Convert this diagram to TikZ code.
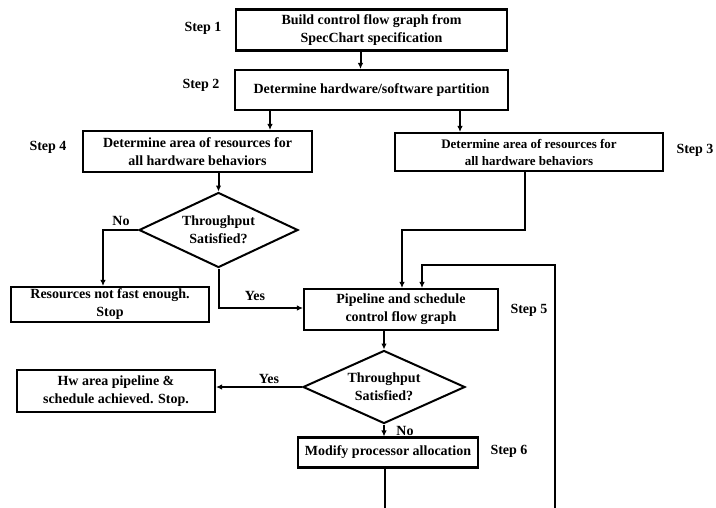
\documentclass[tikz,border=0pt]{standalone}
\usepackage{fontspec}
\setmainfont{Liberation Serif}
\usetikzlibrary{shapes.geometric,arrows.meta}
\begin{document}
\begin{tikzpicture}[x=1pt,y=-1pt,
  every node/.style={font=\fontsize{14}{18}\selectfont\bfseries},
  box/.style={draw,line width=2.1pt,align=center,inner sep=0pt},
  dia/.style={draw,diamond,shape aspect=2.1,line width=2pt,align=center,inner sep=0pt},
  lbl/.style={inner sep=0pt},
  conn/.style={line width=2pt,-{Latex[length=6pt,width=5.5pt]}},
  plain/.style={line width=2pt}]
\clip (0,0) rectangle (716,507);
\fill[white] (0,0) rectangle (716,507);

\node[box,minimum width=271,minimum height=41] (b1) at (371.5,30) {Build control flow graph from\\SpecChart specification};
\node[box,minimum width=273,minimum height=40] (b2) at (371.5,90) {Determine hardware/software partition};
\node[box,minimum width=229,minimum height=41] (b4) at (197.5,151.5) {Determine area of resources for\\all hardware behaviors};
\node[box,minimum width=268,minimum height=38,font=\fontsize{13}{17}\selectfont\bfseries] (b3) at (529,152) {Determine area of resources for\\all hardware behaviors};
\node[dia,minimum width=159,minimum height=75] (d1) at (218.5,230) {Throughput\\Satisfied?};
\node[box,minimum width=198,minimum height=35] (r) at (110,304.5) {Resources not fast enough.\\Stop};
\node[box,minimum width=194,minimum height=41] (p) at (401,309.5) {Pipeline and schedule\\control flow graph};
\node[dia,minimum width=162,minimum height=73] (d2) at (384,387) {Throughput\\Satisfied?};
\node[box,minimum width=198,minimum height=42] (hw) at (116,391) {Hw area pipeline \&\\schedule achieved. Stop.};
\node[box,minimum width=180,minimum height=30] (m) at (388,452.5) {Modify processor allocation};

\node[lbl] (s1) at (203,28) {Step 1};
\node[lbl] (s2) at (201,85) {Step 2};
\node[lbl] (s4) at (48,147) {Step 4};
\node[lbl] (s3) at (695,150) {Step 3};
\node[lbl] (s5) at (529,310) {Step 5};
\node[lbl] (s6) at (509,451) {Step 6};

% connectors
\draw[conn] ([xshift=-11pt]b1.south) -- ([xshift=-11pt]b1.south |- b2.north);
\coordinate (c24) at (270,110);
\draw[conn] (c24 |- b2.south) -- (c24 |- b4.north);
\coordinate (c23) at (460,110);
\draw[conn] (c23 |- b2.south) -- (c23 |- b3.north);
\draw[conn] (d1.north |- b4.south) -- (d1.north);
\coordinate (cno) at (103,231);
\draw[conn] (d1.west) -- (cno |- d1.west) -- (cno |- r.north);
\node[lbl] (no1) at (121,221) {No};
\coordinate (cyes) at (218.5,308);
\draw[conn] (d1.south) -- (cyes) -- (cyes -| p.west);
\node[lbl] (yes1) at (255,296) {Yes};
\coordinate (c3a) at (525,230);
\coordinate (c3b) at (402,230);
\draw[conn] (c3a |- b3.south) -- (c3a) -- (c3b) -- (c3b |- p.north);
\draw[conn] (d2.north |- p.south) -- (d2.north);
\draw[conn] (d2.west) -- (d2.west -| hw.east);
\node[lbl] (yes2) at (269,379) {Yes};
\draw[conn] (d2.south) -- (d2.south |- m.north);
\node[lbl] (no2) at (405,431) {No};
\coordinate (l1) at (385,520);
\coordinate (l2) at (555,520);
\coordinate (l3) at (555,265);
\coordinate (l4) at (422,265);
\draw[conn] (l1 |- m.south) -- (l1) -- (l2) -- (l3) -- (l4) -- (l4 |- p.north);
\end{tikzpicture}
\end{document}
